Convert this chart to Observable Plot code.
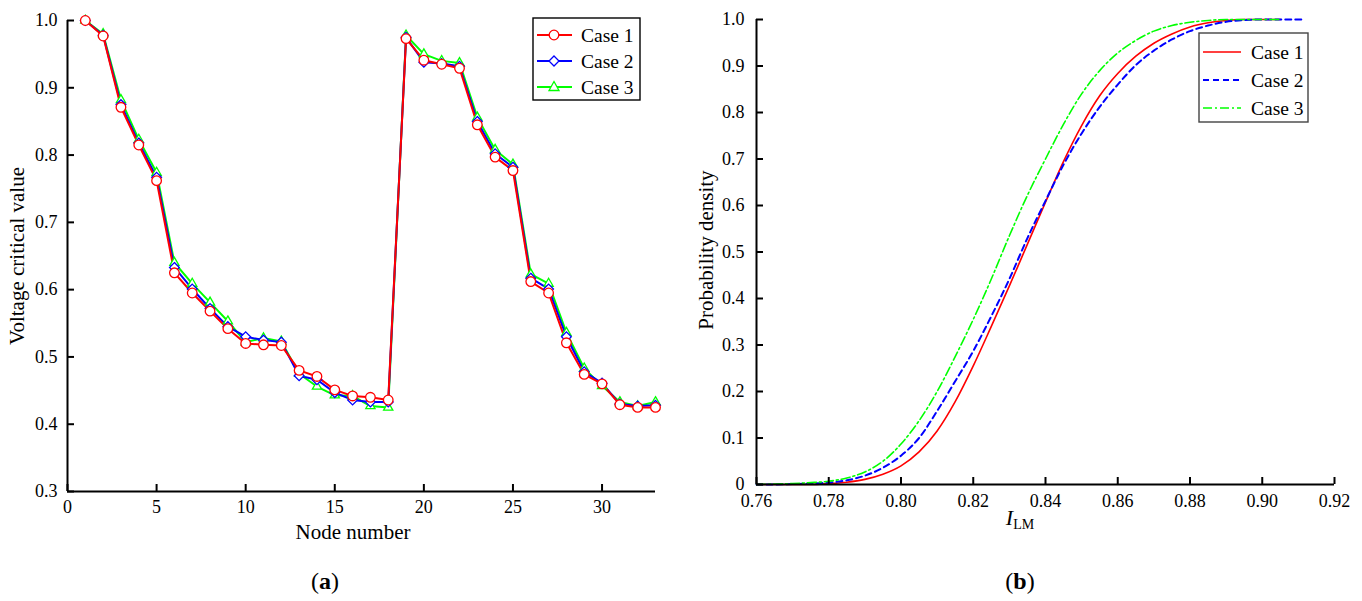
<!DOCTYPE html>
<html><head><meta charset="utf-8">
<script src="https://cdn.jsdelivr.net/npm/d3@7"></script>
<script src="https://cdn.jsdelivr.net/npm/@observablehq/plot@0.6"></script>
<style>
body{margin:0;background:#fff;}
#wrap{position:relative;width:1362px;height:601px;font-family:"Liberation Serif",serif;color:#000;overflow:hidden;}
.abs{position:absolute;white-space:nowrap;}
.c{transform:translate(-50%,-50%);}
.r{transform:translate(-50%,-50%) rotate(-90deg);}
</style></head><body><div id="wrap"></div>
<script>
// ---------- Panel (a) data ----------
const nodes = [1,2,3,4,5,6,7,8,9,10,11,12,13,14,15,16,17,18,19,20,21,22,23,24,25,26,27,28,29,30,31,32,33];
const case1 = [1.000,0.977,0.871,0.815,0.762,0.625,0.595,0.568,0.542,0.520,0.518,0.517,0.480,0.471,0.451,0.442,0.440,0.436,0.973,0.941,0.935,0.929,0.845,0.797,0.777,0.612,0.595,0.521,0.474,0.460,0.429,0.425,0.425];
const case2 = [1.000,0.978,0.875,0.818,0.767,0.633,0.601,0.572,0.545,0.530,0.525,0.522,0.472,0.466,0.447,0.436,0.433,0.433,0.975,0.938,0.936,0.932,0.850,0.802,0.782,0.617,0.601,0.530,0.478,0.461,0.430,0.427,0.428];
const case3 = [1.000,0.980,0.882,0.823,0.774,0.640,0.609,0.581,0.553,0.522,0.528,0.523,0.475,0.456,0.443,0.442,0.427,0.425,0.978,0.950,0.940,0.937,0.856,0.808,0.786,0.623,0.609,0.536,0.483,0.457,0.433,0.427,0.433];
const xTicksA = [0,5,10,15,20,25,30];
const yTicksA = [0.3,0.4,0.5,0.6,0.7,0.8,0.9,1.0];

// ---------- Panel (b) data ----------
const lm = [0.760,0.765,0.770,0.775,0.780,0.785,0.790,0.795,0.800,0.805,0.810,0.815,0.820,0.825,0.830,0.835,0.840,0.845,0.850,0.855,0.860,0.865,0.870,0.875,0.880,0.885,0.890,0.895,0.900,0.905,0.911];
const cdf1 = [0,0,0,0,0.002,0.005,0.011,0.022,0.040,0.070,0.115,0.178,0.255,0.340,0.427,0.517,0.607,0.695,0.772,0.836,0.884,0.921,0.949,0.969,0.984,0.993,0.998,1.000,1.000,1.000,null];
const cdf2 = [0,0,0.001,0.002,0.004,0.009,0.019,0.036,0.062,0.100,0.158,0.222,0.287,0.362,0.442,0.530,0.610,0.688,0.755,0.812,0.860,0.902,0.933,0.957,0.975,0.987,0.995,0.999,1.000,1.000,1.000];
const cdf3 = [0,0.001,0.002,0.004,0.007,0.014,0.027,0.050,0.087,0.137,0.200,0.275,0.355,0.442,0.535,0.622,0.700,0.775,0.840,0.890,0.928,0.955,0.975,0.987,0.994,0.998,1.000,1.000,1.000,1.000,null];
const xTicksB = [0.76,0.78,0.80,0.82,0.84,0.86,0.88,0.90,0.92];
const yTicksB = [0,0.1,0.2,0.3,0.4,0.5,0.6,0.7,0.8,0.9,1.0];

const caseNames = ["Case 1","Case 2","Case 3"];
const colors = ["#ff0000","#0000ff","#00ff00"];

const wrap = document.getElementById("wrap");
const FONT = "Liberation Serif";
const TICKFS = 18;

// ----- Panel (a) -----
const seriesA = [case1, case2, case3].map((vals, k) => nodes.map((n, i) => ({node: n, v: vals[i], s: caseNames[k]})));
const symbols = ["circle","diamond2","triangle2"];
const marksA = [];
[2,1,0].forEach(k => {
  marksA.push(Plot.line(seriesA[k], {x: "node", y: "v", stroke: colors[k], strokeWidth: 2}));
});
[2,1,0].forEach(k => {
  marksA.push(Plot.dot(seriesA[k], {x: "node", y: "v", stroke: colors[k], fill: "white", symbol: symbols[k], r: k===0?4.8:4.4, strokeWidth: 1.3}));
});
const plotA = Plot.plot({
  width: 680, height: 560,
  marginLeft: 67, marginRight: 25, marginTop: 20, marginBottom: 69,
  style: {fontFamily: FONT, fontSize: TICKFS + "px", color: "#000", background: "transparent", overflow: "visible"},
  x: {domain: [0,33]},
  y: {domain: [0.3,1.0]},
  marks: [
    ...marksA,
    Plot.ruleX([0], {strokeWidth: 2}),
    Plot.ruleY([0.3], {strokeWidth: 2}),
    Plot.axisX(xTicksA, {tickSize: -7, tickPadding: 16, strokeWidth: 2, tickFormat: d => String(d), label: null, fontSize: TICKFS}),
    Plot.axisY(yTicksA, {tickSize: -7, tickPadding: 17, strokeWidth: 2, tickFormat: d => d.toFixed(1), label: null, fontSize: TICKFS})
  ]
});
plotA.style.position = "absolute"; plotA.style.left = "0px"; plotA.style.top = "0px";
wrap.appendChild(plotA);

// ----- Panel (b) -----
const seriesB = [cdf1, cdf2, cdf3].map(vals => lm.map((x, i) => ({x, y: vals[i]})));
const dashes = [null, "6,4", "9,3,2,3"];
const widths = [1.6, 2, 1.6];
const plotB = Plot.plot({
  width: 672, height: 560,
  marginLeft: 66, marginRight: 28, marginTop: 19, marginBottom: 76,
  style: {fontFamily: FONT, fontSize: TICKFS + "px", color: "#000", background: "transparent", overflow: "visible"},
  x: {domain: [0.76,0.92]},
  y: {domain: [0,1]},
  marks: [
    ...[0,1,2].map(k => Plot.line(seriesB[k], {x: "x", y: "y", stroke: colors[k], strokeWidth: widths[k], strokeDasharray: dashes[k], curve: "monotone-x", defined: d => d.y != null})),
    Plot.ruleX([0.76], {strokeWidth: 2}),
    Plot.ruleY([0], {strokeWidth: 2}),
    Plot.axisX(xTicksB, {tickSize: -7, tickPadding: 17, strokeWidth: 2, tickFormat: d => d.toFixed(2), label: null, fontSize: TICKFS}),
    Plot.axisY(yTicksB, {tickSize: -7, tickPadding: 19, strokeWidth: 2, tickFormat: d => d === 0 ? "0" : d.toFixed(1), label: null, fontSize: TICKFS})
  ]
});
plotB.style.position = "absolute"; plotB.style.left = "690px"; plotB.style.top = "0px";
wrap.appendChild(plotB);

// ----- Labels -----
function label(html, x, y, cls, size) {
  const d = document.createElement("div");
  d.className = "abs " + cls;
  d.style.left = x + "px"; d.style.top = y + "px"; d.style.fontSize = size + "px";
  d.innerHTML = html;
  wrap.appendChild(d);
}
label("Voltage critical value", 17, 256, "r", 21);
label("Node number", 353, 532, "c", 21);
label("(<b>a</b>)", 325, 581, "c", 24);
label("Probability density", 706, 250, "r", 21);
label("<i>I</i><sub style='font-size:14px;vertical-align:-4px'>LM</sub>", 1020, 519, "c", 22);
label("(<b>b</b>)", 1020, 581, "c", 24);

// ----- Legends -----
function legend(x, y, w, h, rowH, textX, drawSample, border) {
  const ns = "http://www.w3.org/2000/svg";
  const svg = document.createElementNS(ns, "svg");
  svg.setAttribute("width", w + 2); svg.setAttribute("height", h + 2);
  svg.style.position = "absolute"; svg.style.left = x + "px"; svg.style.top = y + "px";
  let s = `<rect x="1" y="1" width="${w}" height="${h}" fill="white" stroke="${border}" stroke-width="1.4"/>`;
  caseNames.forEach((name, k) => {
    const cy = rowH[k];
    s += drawSample(k, cy);
    s += `<text x="${textX}" y="${cy}" dy="0.35em" font-family="${FONT}" font-size="19.5">${name}</text>`;
  });
  svg.innerHTML = s;
  wrap.appendChild(svg);
}
legend(532, 17, 107, 82, [18, 44, 70], 49, (k, cy) => {
  let s = `<line x1="5" x2="40" y1="${cy}" y2="${cy}" stroke="${colors[k]}" stroke-width="2"/>`;
  const cx = 22;
  if (k === 0) s += `<circle cx="${cx}" cy="${cy}" r="4.8" fill="white" stroke="${colors[k]}" stroke-width="1.3"/>`;
  if (k === 1) s += `<path d="M${cx},${cy-5}L${cx+5},${cy}L${cx},${cy+5}L${cx-5},${cy}Z" fill="white" stroke="${colors[k]}" stroke-width="1.3"/>`;
  if (k === 2) s += `<path d="M${cx},${cy-5.5}L${cx+5},${cy+3.5}L${cx-5},${cy+3.5}Z" fill="white" stroke="${colors[k]}" stroke-width="1.3"/>`;
  return s;
}, "#000");
legend(1198, 32, 109, 89, [20, 48, 76], 53, (k, cy) => {
  const da = dashes[k] ? `stroke-dasharray="${dashes[k]}"` : "";
  return `<line x1="5" x2="43" y1="${cy}" y2="${cy}" stroke="${colors[k]}" stroke-width="${widths[k]}" ${da}/>`;
}, "#444");
</script></body></html>
